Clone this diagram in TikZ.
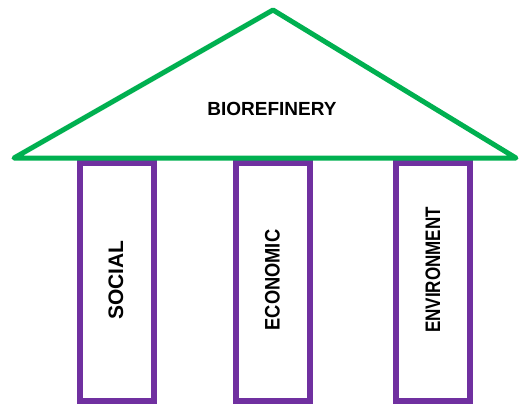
\documentclass[tikz,border=0pt]{standalone}
\usepackage{fontspec}
\setmainfont{Liberation Sans}
\usepackage{tikz}
\definecolor{RoofGreen}{HTML}{00B050}
\definecolor{PillarPurple}{HTML}{7030A0}

\begin{document}
\begin{tikzpicture}[x=1pt, y=-1pt]
        \def\top{163}
        \def\bot{401}
        \def\w{74}

        \useasboundingbox (0,0) rectangle (519,405);

        \draw[PillarPurple, line width=5.5pt] (80,\top) rectangle ++(\w,\bot-\top);
        \draw[PillarPurple, line width=5.5pt] (236,\top) rectangle ++(\w,\bot-\top);
        \draw[PillarPurple, line width=5.5pt] (396,\top) rectangle ++(\w,\bot-\top);

        \coordinate (L) at (14,158);
        \coordinate (A) at (273,10);
        \coordinate (R) at (516,158);

        \draw[RoofGreen, line width=5pt, line join=round, line cap=round] (L) -- (A) -- (R) -- cycle;

        \node (roof) at (272,109) {\fontsize{19}{19}\selectfont\bfseries BIOREFINERY};

        \node[rotate=90] (social) at (116,280) {\fontsize{21}{21}\selectfont\bfseries SOCIAL};
        \node[rotate=90] (economic) at (272.5,280) {\fontsize{21}{21}\selectfont\bfseries\scalebox{0.87}[1]{ECONOMIC}};
        \node[rotate=90] (environment) at (433,270) {\fontsize{21}{21}\selectfont\bfseries\scalebox{0.81}[1]{ENVIRONMENT}};
    \end{tikzpicture}
\end{document}
